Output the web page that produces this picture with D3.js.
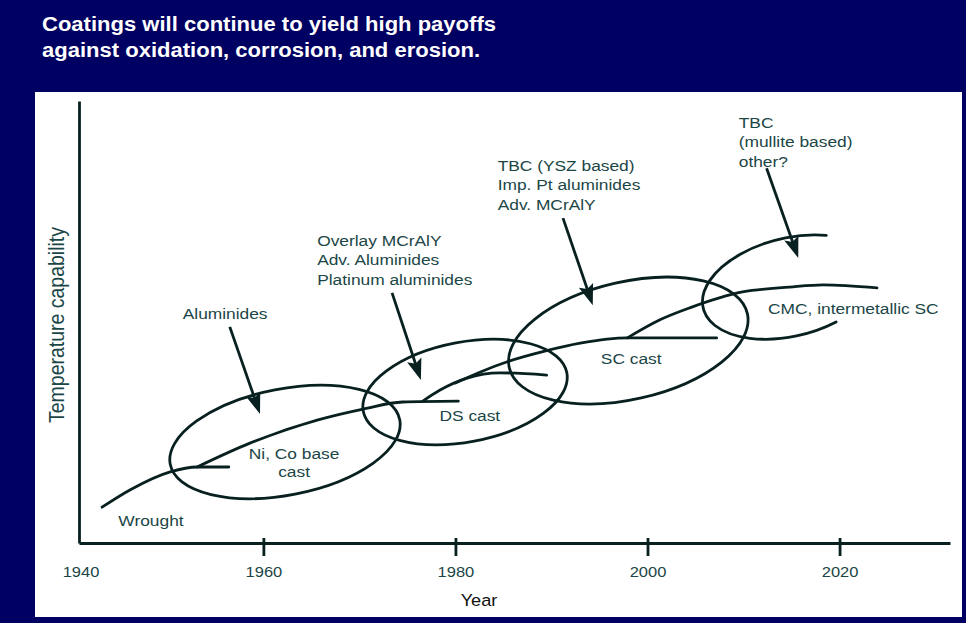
<!DOCTYPE html>
<html>
<head>
<meta charset="utf-8">
<script src="https://cdn.jsdelivr.net/npm/d3@7"></script>
<style>
  html, body { margin: 0; padding: 0; background: #000062; }
  svg { display: block; }
</style>
</head>
<body>
<svg id="chart" width="966" height="623"></svg>
<script>
// ---- Data -------------------------------------------------------------
const titleLines = [
  "Coatings will continue to yield high payoffs",
  "against oxidation, corrosion, and erosion."
];
const xTitle = "Year";
const yTitle = "Temperature capability";

// Years labelled along the time axis (the first one sits at the origin)
const tickYears = [1940, 1960, 1980, 2000, 2020];

// Alloy generations: [year, temperature capability (relative units)]
const wrought   = [[1943.2, 8.1], [1946.1, 12.0], [1950.3, 16.1], [1953.1, 17.2], [1956.4, 17.2]];
const niCoCast  = [[1953.1, 17.2], [1958.6, 22.6], [1965.6, 27.8], [1970.4, 30.3], [1974.5, 31.9], [1980.3, 32.1]];
const dsCast    = [[1976.6, 32.1], [1978.4, 34.6], [1981.2, 37.3], [1984.6, 38.5], [1989.5, 38.0]];
const scCast    = [[1980.0, 36.2], [1982.6, 38.7], [1985.4, 41.0], [1989.3, 43.4], [1993.0, 45.2], [1997.9, 46.4], [2007.2, 46.4]];
const cmcSC     = [[1997.9, 46.4], [2001.3, 50.5], [2004.4, 53.2], [2009.9, 56.8], [2014.8, 57.9], [2018.3, 58.4], [2023.9, 57.7]];
const alloyCurves = [wrought, niCoCast, dsCast, scCast, cmcSC];

const alloyLabels = [
  { lines: ["Wrought"],               at: [1944.9, 3.85], anchor: "start" },
  { lines: ["Ni, Co base", "cast"],   at: [1963.2, 19.0], anchor: "middle" },
  { lines: ["DS cast"],               at: [1981.5, 27.6], anchor: "middle" },
  { lines: ["SC cast"],               at: [1998.3, 40.5], anchor: "middle" },
  { lines: ["CMC, intermetallic SC"], at: [2012.55, 51.8], anchor: "start" }
];

// Coating generations: loops spanning a major axis [year, temp] -> [year, temp]
// with a half-thickness in temperature units
const coatingLoops = [
  { from: [1950.3, 17.8], to: [1974.2, 27.9], half: 12.0 },
  { from: [1970.4, 29.8], to: [1991.6, 38.5], half: 11.3 },
  { from: [1985.6, 39.7], to: [2010.4, 51.9], half: 13.3 }
];
// The newest generation is still open-ended on the right
const openLoop = { from: [2005.8, 53.1], to: [2023.9, 62.7], half: 11.1, arc: [-58, 66] };

const coatingLabels = [
  { lines: ["Aluminides"], at: [1951.6, 50.7], from: [1956.5, 48.9], to: [1959.65, 29.2] },
  { lines: ["Overlay MCrAlY", "Adv. Aluminides", "Platinum aluminides"], at: [1965.6, 67.2], from: [1973.4, 56.6], to: [1976.4, 36.9] },
  { lines: ["TBC (YSZ based)", "Imp. Pt aluminides", "Adv. MCrAlY"], at: [1984.4, 84.2], from: [1991.2, 73.5], to: [1994.3, 53.8] },
  { lines: ["TBC", "(mullite based)", "other?"], at: [2009.5, 93.9], from: [2012.4, 84.8], to: [2015.7, 64.5] }
];

// ---- Drawing ----------------------------------------------------------
const W = 966, H = 623;
const INK = "#082020";
const TEXT = "#1b4646";
const FONT = "'Liberation Sans', Arial, sans-serif";
const SW = 2.8;

const svg = d3.select("#chart");

svg.append("rect").attr("width", W).attr("height", H).attr("fill", "#000062");
svg.append("rect").attr("x", 35).attr("y", 92).attr("width", 927).attr("height", 525).attr("fill", "#ffffff");

// Title
svg.append("g").selectAll("text").data(titleLines).join("text")
  .attr("transform", (d, i) => `translate(42,${31 + i * 26}) scale(1.13,1)`)
  .attr("fill", "#ffffff")
  .attr("font-family", FONT).attr("font-weight", "bold").attr("font-size", 19.5)
  .text(d => d);

const x = d3.scaleLinear().domain([1940.8, 2031.5]).range([79, 950]);
const y = d3.scaleLinear().domain([0, 100]).range([543, 101]);

// Axes
const yAxis = svg.append("g").attr("transform", `translate(${x.range()[0]},0)`)
  .call(d3.axisLeft(y).tickValues([]).tickSizeOuter(0));
yAxis.select(".domain").attr("stroke", INK).attr("stroke-width", SW);

const xAxis = svg.append("g").attr("transform", `translate(0,${y.range()[0]})`)
  .call(d3.axisBottom(x).tickValues(tickYears.slice(1))
        .tickSizeInner(13).tickSizeOuter(0).tickPadding(10).tickFormat(d3.format("d")));
xAxis.select(".domain").attr("stroke", INK).attr("stroke-width", SW);
xAxis.selectAll(".tick line").attr("y1", -5).attr("stroke", INK).attr("stroke-width", SW);
xAxis.selectAll(".tick text")
  .attr("fill", TEXT).attr("font-family", FONT).attr("font-size", 15)
  .attr("transform", "scale(1.1,1)");
// origin year label
xAxis.append("text")
  .attr("transform", `translate(${x(x.domain()[0]) + 2},0) scale(1.1,1)`)
  .attr("y", 23).attr("dy", "0.71em").attr("text-anchor", "middle")
  .attr("fill", TEXT).attr("font-family", FONT).attr("font-size", 15)
  .text(tickYears[0]);

svg.append("text")
  .attr("transform", `translate(479,606) scale(1.1,1)`)
  .attr("text-anchor", "middle").attr("fill", "#111")
  .attr("font-family", FONT).attr("font-size", 16.5)
  .text(xTitle);

svg.append("text")
  .attr("transform", `translate(64,325) scale(1.12,1) rotate(-90)`)
  .attr("text-anchor", "middle").attr("fill", TEXT)
  .attr("font-family", FONT).attr("font-size", 19.5)
  .text(yTitle);

// Alloy curves
const line = d3.line().x(d => x(d[0])).y(d => y(d[1])).curve(d3.curveMonotoneX);
svg.append("g").selectAll("path").data(alloyCurves).join("path")
  .attr("d", line).attr("fill", "none")
  .attr("stroke", INK).attr("stroke-width", SW).attr("stroke-linecap", "round");

// Coating loops
function loopGeom(l) {
  const x1 = x(l.from[0]), y1 = y(l.from[1]), x2 = x(l.to[0]), y2 = y(l.to[1]);
  const cx = (x1 + x2) / 2, cy = (y1 + y2) / 2;
  const a = Math.hypot(x2 - x1, y2 - y1) / 2;
  const th = Math.atan2(y2 - y1, x2 - x1);
  const b = y(0) - y(l.half);
  return { cx, cy, a, b, th };
}
const gLoops = svg.append("g");
gLoops.selectAll("ellipse").data(coatingLoops).join("ellipse")
  .each(function (d) {
    const g = loopGeom(d);
    d3.select(this).attr("cx", g.cx).attr("cy", g.cy).attr("rx", g.a).attr("ry", g.b)
      .attr("transform", `rotate(${g.th * 180 / Math.PI},${g.cx},${g.cy})`);
  })
  .attr("fill", "none").attr("stroke", INK).attr("stroke-width", SW);

{
  const g = loopGeom(openLoop);
  const pt = deg => {
    const t = deg * Math.PI / 180;
    return [g.cx + g.a * Math.cos(g.th) * Math.cos(t) - g.b * Math.sin(g.th) * Math.sin(t),
            g.cy + g.a * Math.sin(g.th) * Math.cos(t) + g.b * Math.cos(g.th) * Math.sin(t)];
  };
  const p0 = pt(openLoop.arc[0]), p1 = pt(openLoop.arc[1]);
  gLoops.append("path")
    .attr("d", `M${p0[0]},${p0[1]} A${g.a},${g.b} ${g.th * 180 / Math.PI} 1 0 ${p1[0]},${p1[1]}`)
    .attr("fill", "none").attr("stroke", INK).attr("stroke-width", SW).attr("stroke-linecap", "round");
}

// Text helper: stacked lines, slightly widened
function labelBlock(sel, data, lineGap) {
  sel.selectAll("g").data(data).join("g")
    .each(function (d) {
      d3.select(this).selectAll("text").data(d.lines).join("text")
        .attr("transform", (t, i) => `translate(${x(d.at[0])},${y(d.at[1]) + i * lineGap}) scale(1.12,1)`)
        .attr("text-anchor", d.anchor || "start")
        .attr("fill", TEXT).attr("font-family", FONT).attr("font-size", 15.5)
        .text(t => t);
    });
}
labelBlock(svg.append("g"), alloyLabels, 18);
labelBlock(svg.append("g"), coatingLabels, 19.5);

// Arrows from coating labels to their loops
const gArrows = svg.append("g");
coatingLabels.forEach(d => {
  const x1 = x(d.from[0]), y1 = y(d.from[1]), x2 = x(d.to[0]), y2 = y(d.to[1]);
  const ang = Math.atan2(y2 - y1, x2 - x1);
  const hl = 21, hw = 7.5;
  const bx = x2 - hl * Math.cos(ang), by = y2 - hl * Math.sin(ang);
  gArrows.append("line")
    .attr("x1", x1).attr("y1", y1).attr("x2", bx + 5 * Math.cos(ang)).attr("y2", by + 5 * Math.sin(ang))
    .attr("stroke", INK).attr("stroke-width", SW);
  const nx = -Math.sin(ang), ny = Math.cos(ang);
  gArrows.append("path")
    .attr("d", `M${x2},${y2} L${bx + hw * nx},${by + hw * ny} L${bx + 4 * Math.cos(ang)},${by + 4 * Math.sin(ang)} L${bx - hw * nx},${by - hw * ny} Z`)
    .attr("fill", INK);
});
</script>
</body>
</html>
